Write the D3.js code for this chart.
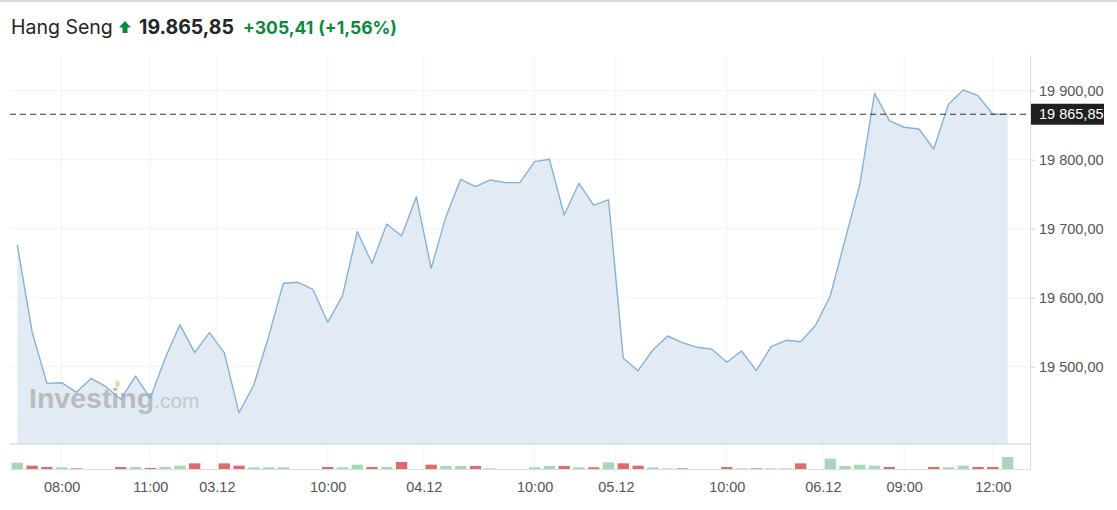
<!DOCTYPE html>
<html>
<head>
<meta charset="utf-8">
<script src="https://cdn.jsdelivr.net/npm/d3@7"></script>
<style>
  html, body { margin: 0; padding: 0; background: #fff; }
  svg { display: block; }
</style>
</head>
<body>
<svg id="chart" width="1117" height="510"></svg>
<script>
// ---- data ----
const instrument = "Hang Seng";
const lastPrice = 19865.85;
const change = 305.41;
const changePct = 1.56;

const prices = [
  19676.4, 19550.7, 19475.9, 19476.8, 19462.9, 19483.2, 19471.0, 19452.8, 19486.5, 19454.2,
  19512.2, 19560.9, 19520.3, 19549.3, 19520.3, 19433.3, 19473.5, 19543.5, 19620.9, 19622.3,
  19612.2, 19564.3, 19602.5, 19695.7, 19649.9, 19706.8, 19689.4, 19746.4, 19642.6, 19717.4,
  19771.6, 19760.9, 19770.6, 19766.7, 19766.7, 19797.1, 19800.6, 19719.9, 19765.8, 19733.9,
  19742.0, 19512.2, 19494.2, 19524.2, 19544.5, 19534.8, 19528.1, 19525.2, 19506.4, 19522.8,
  19494.2, 19529.0, 19538.3, 19536.2, 19559.7, 19602.5, 19683.6, 19764.3, 19896.2, 19856.5,
  19847.0, 19844.5, 19815.5, 19880.3, 19901.0, 19892.8, 19865.85, 19865.85
];

const volumes = [
  19, 10, 6, 5, 2, 0, 0, 6, 6, 3,
  6, 10, 17, 0, 17, 10, 5, 5, 5, 0,
  0, 6, 5, 13, 6, 6, 21, 0, 13, 9,
  9, 9, 2, 0, 0, 5, 9, 9, 5, 5,
  20, 17, 10, 5, 2, 2, 0, 0, 6, 2,
  2, 2, 2, 17, 0, 31, 9, 13, 10, 6,
  0, 0, 6, 5, 10, 6, 6, 36
];

const tickIndex  = [3, 9, 13.5, 21, 27.5, 35, 40.5, 48, 54.5, 60, 66];
const tickLabels = ["08:00", "11:00", "03.12", "10:00", "04.12", "10:00", "05.12", "10:00", "06.12", "09:00", "12:00"];
const priceTicks = [19500, 19600, 19700, 19800, 19900];

// ---- layout ----
const svg = d3.select("#chart");
const W = 1117, H = 510;
const left = 10, axisX = 1030;
const plotTop = 55, plotBottom = 443.5;
const volBase = 469, volTop = 445;

const x = d3.scaleLinear().domain([0, prices.length - 1]).range([17.3, 1007.6]);
const y = d3.scaleLinear().domain([19388.7, 19951.7]).range([plotBottom, plotTop]);
const vy = d3.scaleLinear().domain([0, 72]).range([volBase, volTop]);

const ruLocale = d3.formatLocale({decimal: ",", thousands: "\u00a0", grouping: [3], currency: ["", ""]});
const fmtAxis = ruLocale.format(",.2f");
const hdrLocale = d3.formatLocale({decimal: ",", thousands: ".", grouping: [3], currency: ["", ""]});
const fmtHdr = hdrLocale.format(",.2f");

svg.append("rect").attr("width", W).attr("height", H).attr("fill", "#fff");

// top border
svg.append("line").attr("x1", 0).attr("x2", W).attr("y1", 1).attr("y2", 1)
  .attr("stroke", "#c9c9c9").attr("stroke-width", 1.5);

// ---- header ----
const hdr = svg.append("g").attr("font-family", "Inter, 'Noto Sans', sans-serif");
hdr.append("text").attr("x", 11).attr("y", 34).attr("font-size", 19.5).attr("fill", "#232526")
  .text(instrument);
// up arrow
hdr.append("path")
  .attr("d", "M125,21 L131,27.5 L127.5,27.5 L127.5,33 L122.5,33 L122.5,27.5 L119,27.5 Z")
  .attr("fill", "#0b8a3c");
hdr.append("text").attr("x", 139).attr("y", 34).attr("font-size", 19.5).attr("font-weight", 700)
  .attr("fill", "#232526").text(fmtHdr(lastPrice));
const g1 = hdr.append("text").attr("x", 243).attr("y", 34).attr("font-size", 17.5).attr("font-weight", 700)
  .attr("fill", "#0b8a3c");
g1.append("tspan").text("+" + fmtAxis(change).replace(/\u00a0/g, ""));
g1.append("tspan").attr("dx", 5).text("(+" + fmtAxis(changePct) + "%)");

// ---- gridlines ----
const grid = svg.append("g");
grid.selectAll("line.h").data(priceTicks).join("line")
  .attr("x1", left).attr("x2", axisX)
  .attr("y1", d => y(d)).attr("y2", d => y(d))
  .attr("stroke", "#f0f2f4").attr("stroke-width", 1);
grid.selectAll("line.v").data(tickIndex).join("line")
  .attr("x1", d => x(d)).attr("x2", d => x(d))
  .attr("y1", plotTop).attr("y2", 475)
  .attr("stroke", "#f1f3f5").attr("stroke-width", 1);

// ---- area & line ----
const area = d3.area().x((d, i) => x(i)).y0(plotBottom).y1(d => y(d));
const line = d3.line().x((d, i) => x(i)).y(d => y(d));
svg.append("path").datum(prices).attr("d", area).attr("fill", "#dde8f2").attr("fill-opacity", 0.85);

// ---- watermark ----
const wm = svg.append("g").attr("font-family", "'Liberation Sans', Arial, sans-serif");
const wmText = wm.append("text").attr("x", 29).attr("y", 408);
wmText.append("tspan").attr("font-size", 28.5).attr("font-weight", 700).attr("fill", "#b9bcbf").text("Investing");
wmText.append("tspan").attr("font-size", 21).attr("fill", "#c5c8cb").text(".com");
wm.append("ellipse").attr("cx", 117.5).attr("cy", 384).attr("rx", 2.2).attr("ry", 3.5)
  .attr("fill", "#f1d3a6");

svg.append("path").datum(prices).attr("d", line).attr("fill", "none")
  .attr("stroke", "#86b2d5").attr("stroke-width", 1.4).attr("stroke-linejoin", "round");

// plot bottom separator
svg.append("line").attr("x1", left).attr("x2", axisX).attr("y1", plotBottom + 0.5).attr("y2", plotBottom + 0.5)
  .attr("stroke", "#c9ccd0").attr("stroke-width", 1);

// ---- volume bars ----
const bw = 11.3;
svg.append("g").selectAll("rect").data(volumes).join("rect")
  .attr("x", (d, i) => x(i) - bw / 2)
  .attr("width", bw)
  .attr("y", d => vy(d))
  .attr("height", d => volBase - vy(d))
  .attr("fill", (d, i) => (i === 0 || prices[i] >= prices[i - 1]) ? "#a5d8b6" : "#e06b6b");

// volume baseline
svg.append("line").attr("x1", left).attr("x2", axisX).attr("y1", volBase + 0.5).attr("y2", volBase + 0.5)
  .attr("stroke", "#dcdfe2").attr("stroke-width", 1);

// right axis line
svg.append("line").attr("x1", axisX + 0.5).attr("x2", axisX + 0.5).attr("y1", plotTop).attr("y2", volBase + 1)
  .attr("stroke", "#dcdfe2").attr("stroke-width", 1);

// ---- y axis ----
const yAxis = d3.axisRight(y).tickValues(priceTicks).tickSize(5).tickPadding(4).tickFormat(fmtAxis);
const ya = svg.append("g").attr("transform", `translate(${axisX},0)`).call(yAxis);
ya.select(".domain").remove();
ya.selectAll(".tick line").attr("stroke", "#d0d3d6");
ya.selectAll(".tick text").attr("font-family", "'Liberation Sans', Arial, sans-serif")
  .attr("font-size", 14.5).attr("fill", "#555");

// ---- x axis labels ----
const xAxis = d3.axisBottom(x).tickValues(tickIndex).tickSize(0).tickPadding(0)
  .tickFormat((d, i) => tickLabels[i]);
const xa = svg.append("g").attr("transform", `translate(0,482)`).call(xAxis);
xa.select(".domain").remove();
xa.selectAll(".tick text").attr("font-family", "'Liberation Sans', Arial, sans-serif")
  .attr("font-size", 14.5).attr("fill", "#555").attr("dy", "0.71em");

// ---- last price marker ----
svg.append("line").attr("x1", left).attr("x2", axisX).attr("y1", y(lastPrice)).attr("y2", y(lastPrice))
  .attr("stroke", "#333").attr("stroke-width", 1).attr("stroke-dasharray", "6,4");
svg.append("rect").attr("x", axisX + 1).attr("y", y(lastPrice) - 10.5).attr("width", 73).attr("height", 21)
  .attr("fill", "#1f2021");
svg.append("text").attr("x", axisX + 9).attr("y", y(lastPrice) + 5)
  .attr("font-family", "'Liberation Sans', Arial, sans-serif").attr("font-size", 14.5).attr("fill", "#fff")
  .text(fmtAxis(lastPrice));
</script>
</body>
</html>
